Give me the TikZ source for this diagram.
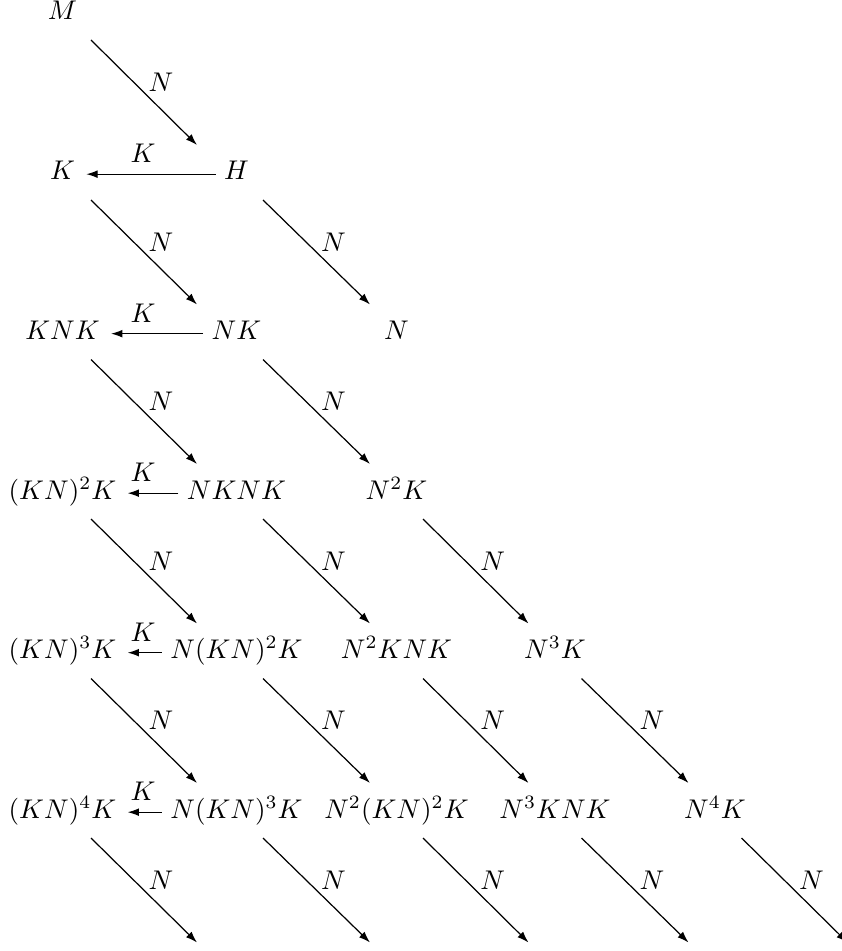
\documentclass[tikz,border=0pt]{standalone}
\usetikzlibrary{arrows.meta}
\begin{document}
\begin{tikzpicture}[x=0.37pt,y=-0.37pt,
  obj/.style={anchor=base, inner sep=0pt, outer sep=0pt},
  lab/.style={inner sep=0pt, outer sep=0pt},
  arr/.style={-{Latex[length=4.2pt,width=2.9pt]}, line width=0.45pt},
  harr/.style={arr, shorten <=3.2pt, shorten >=4.2pt},
  dlab/.style={lab, midway, shift={(17,-10)}},
]
\clip (0,0) rectangle (842,951);
% row 0
\node[obj] (v00) at (62.5,20) {$M$};
% row 1
\node[obj] (v10) at (62.5,180) {$K$};
\node[obj] (v11) at (236.5,180) {$H$};
% row 2
\node[obj] (v20) at (62.5,339.5) {$KNK$};
\node[obj] (v21) at (236.5,339.5) {$NK$};
\node[obj] (v22) at (396.5,339.5) {$N$};
% row 3
\node[obj] (v30) at (62.5,499) {$(KN)^2K$};
\node[obj] (v31) at (236.5,499) {$NKNK$};
\node[obj] (v32) at (396.5,499) {$N^2K$};
% row 4
\node[obj] (v40) at (62.5,658.5) {$(KN)^3K$};
\node[obj] (v41) at (236.5,658.5) {$N(KN)^2K$};
\node[obj] (v42) at (396.5,658.5) {$N^2KNK$};
\node[obj] (v43) at (555,658.5) {$N^3K$};
% row 5
\node[obj] (v50) at (62.5,818) {$(KN)^4K$};
\node[obj] (v51) at (236.5,818) {$N(KN)^3K$};
\node[obj] (v52) at (396.5,818) {$N^2(KN)^2K$};
\node[obj] (v53) at (555,818) {$N^3KNK$};
\node[obj] (v54) at (715,818) {$N^4K$};
% row 6 (free ends)
\coordinate (v61) at (236.5,977.5);
\coordinate (v62) at (396.5,977.5);
\coordinate (v63) at (555,977.5);
\coordinate (v64) at (715,977.5);
\coordinate (v65) at (874,977.5);

% diagonal arrows from column 0
\draw[arr] ([shift={(28.5,20)}]v00.base) -- ([shift={(-39.5,-35)}]v11.base) node[dlab] {$N$};
\draw[arr] ([shift={(28.5,20)}]v10.base) -- ([shift={(-39.5,-35)}]v21.base) node[dlab] {$N$};
\draw[arr] ([shift={(28.5,20)}]v20.base) -- ([shift={(-39.5,-35)}]v31.base) node[dlab] {$N$};
\draw[arr] ([shift={(28.5,20)}]v30.base) -- ([shift={(-39.5,-35)}]v41.base) node[dlab] {$N$};
\draw[arr] ([shift={(28.5,20)}]v40.base) -- ([shift={(-39.5,-35)}]v51.base) node[dlab] {$N$};
\draw[arr] ([shift={(28.5,20)}]v50.base) -- ([shift={(-39.5,-35)}]v61) node[dlab] {$N$};
% diagonal arrows from other columns
\draw[arr] ([shift={(26.5,20)}]v11.base) -- ([shift={(-26.5,-35)}]v22.base) node[dlab] {$N$};
\draw[arr] ([shift={(26.5,20)}]v21.base) -- ([shift={(-26.5,-35)}]v32.base) node[dlab] {$N$};
\draw[arr] ([shift={(26.5,20)}]v31.base) -- ([shift={(-26.5,-35)}]v42.base) node[dlab] {$N$};
\draw[arr] ([shift={(26.5,20)}]v32.base) -- ([shift={(-26.5,-35)}]v43.base) node[dlab] {$N$};
\draw[arr] ([shift={(26.5,20)}]v41.base) -- ([shift={(-26.5,-35)}]v52.base) node[dlab] {$N$};
\draw[arr] ([shift={(26.5,20)}]v42.base) -- ([shift={(-26.5,-35)}]v53.base) node[dlab] {$N$};
\draw[arr] ([shift={(26.5,20)}]v43.base) -- ([shift={(-26.5,-35)}]v54.base) node[dlab] {$N$};
\draw[arr] ([shift={(26.5,20)}]v51.base) -- ([shift={(-26.5,-35)}]v62) node[dlab] {$N$};
\draw[arr] ([shift={(26.5,20)}]v52.base) -- ([shift={(-26.5,-35)}]v63) node[dlab] {$N$};
\draw[arr] ([shift={(26.5,20)}]v53.base) -- ([shift={(-26.5,-35)}]v64) node[dlab] {$N$};
\draw[arr] ([shift={(26.5,20)}]v54.base) -- ([shift={(-26.5,-35)}]v65) node[dlab] {$N$};

% horizontal arrows
\draw[harr] (v11.mid west) -- (v10.mid east);
\node[lab] (k1) at (143,153.3) {$K$};
\draw[harr] (v21.mid west) -- (v20.mid east);
\node[lab] (k2) at (143,312.8) {$K$};
\draw[harr] (v31.mid west) -- (v30.mid east);
\node[lab] (k3) at (143,472.3) {$K$};
\draw[harr] (v41.mid west) -- (v40.mid east);
\node[lab] (k4) at (143,631.8) {$K$};
\draw[harr] (v51.mid west) -- (v50.mid east);
\node[lab] (k5) at (143,791.3) {$K$};
\end{tikzpicture}
\end{document}
